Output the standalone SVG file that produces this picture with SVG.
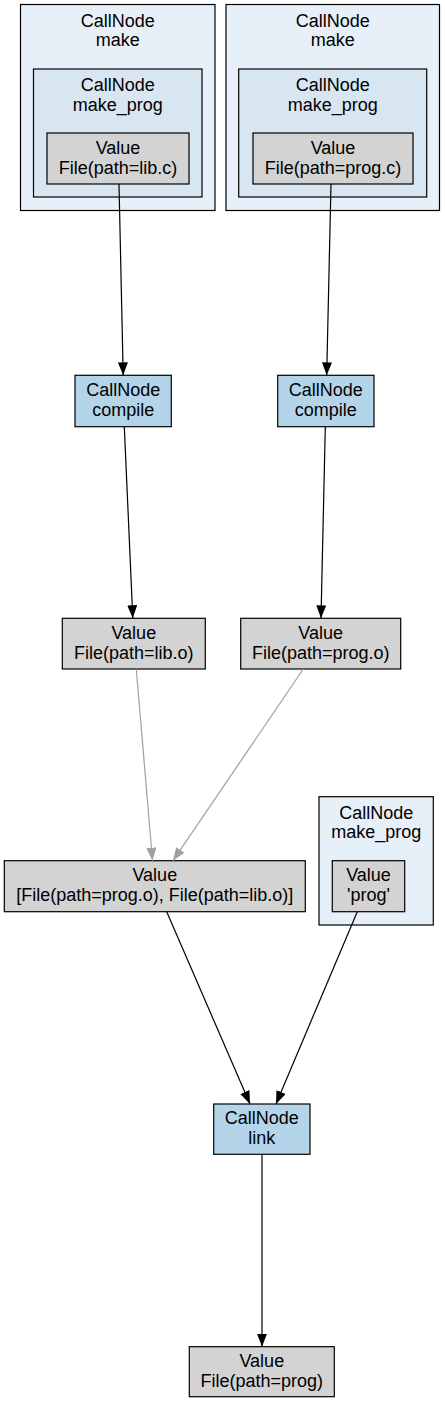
<svg xmlns="http://www.w3.org/2000/svg" width="445" height="1403" viewBox="0 0 445 1403">
<style>
text{font-family:"Liberation Sans",Arial,Helvetica,sans-serif;font-size:18px;fill:#000;text-anchor:middle}
.outer{fill:#e7eff8;stroke:#000;stroke-width:1.2}
.inner{fill:#d8e6f2;stroke:#000;stroke-width:1.2}
.val{fill:#d3d3d3;stroke:#000;stroke-width:1.2}
.call{fill:#b3d4e9;stroke:#000;stroke-width:1.2}
.e{fill:none;stroke:#000;stroke-width:1.2}
.g{fill:none;stroke:#a0a0a0;stroke-width:1.2}
</style>
<defs>
<marker id="ab" markerUnits="userSpaceOnUse" markerWidth="14" markerHeight="11" refX="13" refY="5" orient="auto"><path d="M0,0 L13,5 L0,10 z" fill="#000"/></marker>
<marker id="ag" markerUnits="userSpaceOnUse" markerWidth="14" markerHeight="11" refX="13" refY="5" orient="auto"><path d="M0,0 L13,5 L0,10 z" fill="#a0a0a0"/></marker>
</defs>
<rect width="445" height="1403" fill="#fff"/>
<g id="cluster_make_1">
<rect class="outer" x="20.5" y="4.5" width="194.5" height="206"/>
<text x="117.8" y="26.5">CallNode</text><text x="117.8" y="46">make</text>
<g id="cluster_make_prog_1">
<rect class="inner" x="33.5" y="69" width="168.5" height="128"/>
<text x="117.8" y="90.5">CallNode</text><text x="117.8" y="110.5">make_prog</text>
<g id="node_libc"><rect class="val" x="47" y="133" width="142" height="51"/>
<text x="118" y="153.5">Value</text><text x="118" y="173.5">File(path=lib.c)</text></g>
</g>
</g>
<g id="cluster_make_2">
<rect class="outer" x="226" y="4.5" width="213.5" height="206"/>
<text x="332.8" y="26.5">CallNode</text><text x="332.8" y="46">make</text>
<g id="cluster_make_prog_2">
<rect class="inner" x="238.7" y="69" width="188" height="128"/>
<text x="332.7" y="90.5">CallNode</text><text x="332.7" y="110.5">make_prog</text>
<g id="node_progc"><rect class="val" x="253" y="133" width="160" height="51"/>
<text x="333" y="153.5">Value</text><text x="333" y="173.5">File(path=prog.c)</text></g>
</g>
</g>
<g id="node_compile_1"><rect class="call" x="75" y="375.3" width="96.3" height="51.4"/>
<text x="123.2" y="396">CallNode</text><text x="123.2" y="416">compile</text></g>
<g id="node_compile_2"><rect class="call" x="277.7" y="375.3" width="96.3" height="51.4"/>
<text x="325.8" y="396">CallNode</text><text x="325.8" y="416">compile</text></g>
<g id="node_libo"><rect class="val" x="62.3" y="618.3" width="143" height="50.7"/>
<text x="133.8" y="638.7">Value</text><text x="133.8" y="658.7">File(path=lib.o)</text></g>
<g id="node_progo"><rect class="val" x="240.7" y="618.3" width="160" height="50.7"/>
<text x="320.7" y="638.7">Value</text><text x="320.7" y="658.7">File(path=prog.o)</text></g>
<g id="node_list"><rect class="val" x="4.3" y="860.7" width="301" height="51"/>
<text x="154.8" y="881">Value</text><text x="154.8" y="901">[File(path=prog.o), File(path=lib.o)]</text></g>
<g id="cluster_make_prog_3">
<rect class="outer" x="319" y="796.7" width="114.3" height="128.3"/>
<text x="376.2" y="818.5">CallNode</text><text x="376.2" y="838">make_prog</text>
<g id="node_prog"><rect class="val" x="332.3" y="860.7" width="72.4" height="51"/>
<text x="368.5" y="881">Value</text><text x="368.5" y="901">'prog'</text></g>
</g>
<g id="node_link"><rect class="call" x="213.7" y="1104" width="96.3" height="50.3"/>
<text x="261.8" y="1124">CallNode</text><text x="261.8" y="1144">link</text></g>
<g id="node_final"><rect class="val" x="189.3" y="1346.7" width="145" height="50"/>
<text x="261.8" y="1366.7">Value</text><text x="261.8" y="1386.7">File(path=prog)</text></g>
<g id="connectors">
<path class="e" d="M119,184 L123.2,375.3" marker-end="url(#ab)"/>
<path class="e" d="M331,184 L326.7,375.3" marker-end="url(#ab)"/>
<path class="e" d="M124.3,426.7 L132.8,618.3" marker-end="url(#ab)"/>
<path class="e" d="M325.3,426.7 L321,618.3" marker-end="url(#ab)"/>
<path class="g" d="M136.3,669 L152.5,860.7" marker-end="url(#ag)"/>
<path class="g" d="M303.3,669 L173,860.7" marker-end="url(#ag)"/>
<path class="e" d="M166.7,911.7 L250,1104" marker-end="url(#ab)"/>
<path class="e" d="M357.3,911.7 L276,1104" marker-end="url(#ab)"/>
<path class="e" d="M262,1154.3 L262,1346.7" marker-end="url(#ab)"/>
</g>
</svg>
